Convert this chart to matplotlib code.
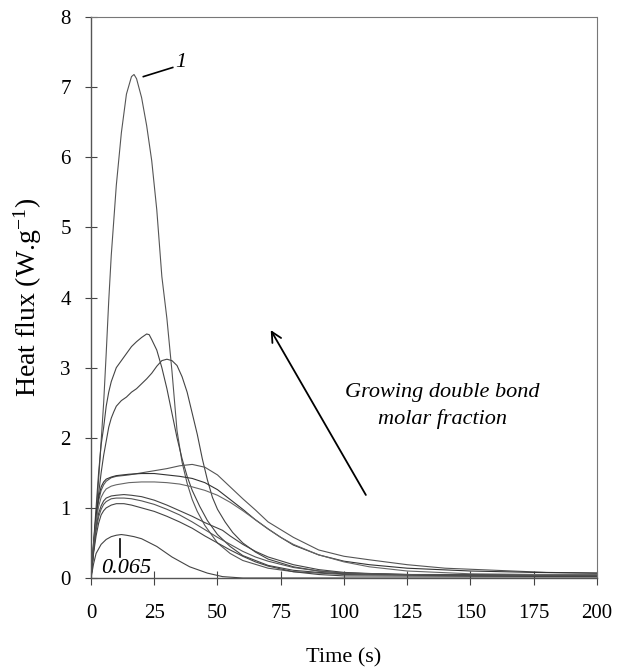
import matplotlib.pyplot as plt

plt.rcParams['font.family'] = ['Liberation Serif', 'DejaVu Serif']
plt.rcParams['mathtext.fontset'] = 'stix'

# heat flux curves, time (s) / flux (W/g)
t_1 = [0, 1, 2, 3, 4, 5, 6, 7, 8, 10, 12, 14, 16, 17, 18, 20, 22, 24, 26, 28, 30, 32, 34, 36, 38,
       40, 42, 45, 50, 55, 60, 70, 80, 100, 125, 150, 175, 200]
q_1 = [0, 0.4, 0.9, 1.4, 1.95, 2.5, 3.2, 3.95, 4.6, 5.6, 6.35, 6.9, 7.15, 7.18, 7.12, 6.85, 6.45,
       5.95, 5.25, 4.3, 3.7, 2.95, 2.1, 1.65, 1.35, 1.12, 0.95, 0.75, 0.5, 0.35, 0.25, 0.14, 0.09,
       0.05, 0.04, 0.03, 0.03, 0.03]

t_2 = [0, 1, 2, 3, 4, 5, 6, 7, 8, 9, 10, 12, 14, 16, 18, 20, 22, 23, 24, 26, 28, 30, 32, 34, 36,
       38, 40, 43, 46, 50, 55, 60, 70, 80, 90, 100, 125, 150, 200]
q_2 = [0, 0.5, 1.0, 1.5, 1.9, 2.15, 2.45, 2.65, 2.8, 2.9, 3.0, 3.1, 3.2, 3.3, 3.37, 3.43, 3.48,
       3.47, 3.4, 3.25, 3.0, 2.7, 2.35, 2.0, 1.7, 1.45, 1.25, 1.02, 0.82, 0.62, 0.45, 0.32, 0.18,
       0.11, 0.08, 0.06, 0.05, 0.04, 0.04]

t_3 = [0, 1, 2, 3, 4, 5, 6, 7, 8, 9, 10, 12, 14, 16, 18, 20, 22, 24, 26, 28, 30, 32, 34, 36, 38,
       40, 42, 44, 46, 48, 50, 53, 56, 60, 65, 70, 80, 90, 100, 125, 150, 200]
q_3 = [0, 0.4, 0.8, 1.2, 1.5, 1.75, 1.95, 2.15, 2.28, 2.37, 2.45, 2.53, 2.58, 2.65, 2.7, 2.77,
       2.84, 2.92, 3.02, 3.1, 3.12, 3.1, 3.03, 2.87, 2.65, 2.35, 2.05, 1.7, 1.4, 1.15, 0.98, 0.8,
       0.65, 0.5, 0.37, 0.27, 0.16, 0.1, 0.07, 0.05, 0.05, 0.05]

t_4 = [0, 1, 2, 3, 4, 5, 6, 8, 10, 15, 20, 25, 30, 35, 40, 45, 50, 55, 60, 65, 70, 80, 90, 100,
       110, 125, 140, 160, 180, 200]
q_4 = [0, 0.45, 0.85, 1.1, 1.25, 1.33, 1.38, 1.43, 1.45, 1.47, 1.5, 1.53, 1.56, 1.6, 1.62, 1.58,
       1.47, 1.3, 1.13, 0.97, 0.8, 0.58, 0.4, 0.31, 0.26, 0.19, 0.14, 0.11, 0.08, 0.07]

t_5 = [0, 1, 2, 3, 4, 5, 6, 8, 10, 15, 20, 25, 30, 35, 40, 45, 50, 55, 60, 65, 70, 75, 80, 90,
       100, 110, 125, 150, 175, 200]
q_5 = [0, 0.5, 0.9, 1.15, 1.3, 1.37, 1.41, 1.44, 1.46, 1.48, 1.49, 1.49, 1.47, 1.45, 1.42, 1.36,
       1.26, 1.12, 0.98, 0.83, 0.7, 0.58, 0.47, 0.33, 0.24, 0.19, 0.14, 0.1, 0.08, 0.07]

t_6 = [0, 1, 2, 3, 4, 5, 6, 8, 10, 15, 20, 25, 30, 35, 40, 45, 50, 55, 60, 65, 70, 75, 80, 90,
       100, 110, 125, 150, 175, 200]
q_6 = [0, 0.45, 0.8, 1.02, 1.15, 1.22, 1.27, 1.31, 1.33, 1.36, 1.37, 1.37, 1.36, 1.34, 1.3, 1.25,
       1.18, 1.08, 0.96, 0.83, 0.7, 0.58, 0.48, 0.33, 0.23, 0.16, 0.1, 0.06, 0.05, 0.05]

t_7 = [0, 1, 2, 3, 4, 5, 6, 8, 10, 13, 16, 20, 25, 30, 35, 40, 45, 52, 55, 60, 65, 70, 80, 90,
       100, 120, 150, 200]
q_7 = [0, 0.4, 0.72, 0.92, 1.03, 1.1, 1.14, 1.17, 1.18, 1.19, 1.18, 1.16, 1.11, 1.04, 0.96, 0.88,
       0.79, 0.68, 0.6, 0.48, 0.38, 0.3, 0.19, 0.12, 0.08, 0.05, 0.04, 0.03]

t_8 = [0, 1, 2, 3, 4, 5, 6, 8, 10, 13, 16, 20, 25, 30, 35, 40, 45, 50, 55, 60, 65, 70, 80, 90,
       100, 125, 150, 200]
q_8 = [0, 0.38, 0.68, 0.87, 0.98, 1.05, 1.09, 1.13, 1.14, 1.14, 1.13, 1.1, 1.05, 0.98, 0.9, 0.8,
       0.69, 0.58, 0.48, 0.38, 0.3, 0.24, 0.15, 0.1, 0.07, 0.05, 0.04, 0.03]

t_9 = [0, 1, 2, 3, 4, 5, 6, 8, 10, 13, 16, 20, 25, 30, 35, 40, 45, 50, 55, 60, 65, 70, 80, 90,
       100, 200]
q_9 = [0, 0.35, 0.6, 0.78, 0.9, 0.96, 1.0, 1.04, 1.06, 1.06, 1.04, 1.0, 0.95, 0.88, 0.8, 0.71,
       0.6, 0.5, 0.4, 0.31, 0.23, 0.17, 0.09, 0.05, 0.03, 0.02]

t_10 = [0, 1, 2, 4, 6, 8, 10, 12, 14, 17, 20, 26, 32, 39, 46, 52, 60, 70, 200]
q_10 = [0, 0.2, 0.35, 0.48, 0.55, 0.59, 0.61, 0.62, 0.61, 0.59, 0.56, 0.45, 0.3, 0.16, 0.07, 0.02,
        0, 0, 0]

curves = [(t_1, q_1, '#555555'), (t_2, q_2, '#444444'), (t_3, q_3, '#444444'),
          (t_4, q_4, '#555555'), (t_5, q_5, '#333333'), (t_6, q_6, '#666666'),
          (t_7, q_7, '#444444'), (t_8, q_8, '#555555'), (t_9, q_9, '#444444'),
          (t_10, q_10, '#444444')]

fig = plt.figure(figsize=(6.29, 6.69), dpi=100)
ax = fig.add_axes([0.1447, 0.136, 0.8043, 0.8386])

for t, q, c in curves:
    ax.plot(t, q, color=c, lw=0.8)

ax.set_xlim(0, 200)
ax.set_ylim(0, 8)
ax.set_xticks(range(0, 201, 25))
ax.set_yticks(range(0, 9))

for side in ['top', 'right']:
    ax.spines[side].set_linestyle((0, (1, 1)))
    ax.spines[side].set_color('#777777')
    ax.spines[side].set_linewidth(0.8)
for side in ['left', 'bottom']:
    ax.spines[side].set_color('#555555')
    ax.spines[side].set_linewidth(1.0)

ax.tick_params(axis='x', direction='inout', length=10, width=0.8, pad=14, labelsize=15,
               color='#444444')
ax.tick_params(axis='y', direction='inout', length=9, width=0.8, pad=10, labelsize=15,
               color='#444444')

ax.set_xlabel('Time (s)', fontsize=16, labelpad=18)
ax.set_ylabel('Heat flux (W.g$^{\\mathregular{-1}}$)', fontsize=20, labelpad=12)

# annotations
ax.plot([20.7, 32.3], [7.15, 7.28], color='black', lw=1.2)
ax.text(35.5, 7.35, '1', fontsize=16, style='italic', ha='center', va='center')
ax.plot([11.3, 11.3], [0.3, 0.55], color='black', lw=1.2)
ax.text(4.2, 0.0, '0.065', fontsize=16, style='italic', ha='left', va='bottom')

ax.annotate('', xy=(70.5, 3.57), xytext=(109.2, 1.15),
            arrowprops=dict(arrowstyle='->', color='black', lw=1.3, mutation_scale=18))
ax.text(139, 2.45, 'Growing double bond\nmolar fraction', fontsize=16, style='italic',
        ha='center', va='center', linespacing=1.45)

fig.savefig('out.png', dpi=100)
